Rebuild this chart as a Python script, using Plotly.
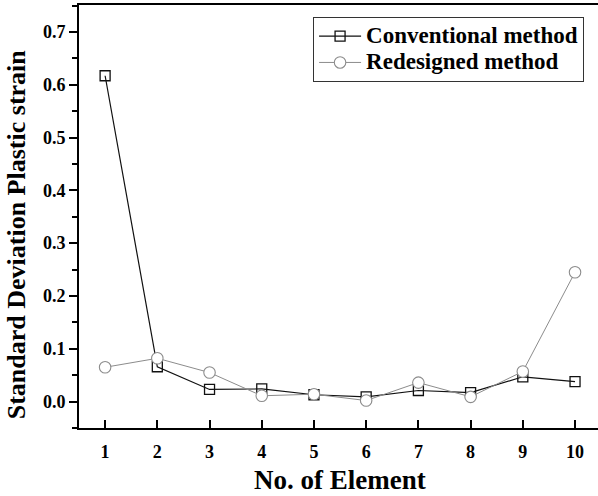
import plotly.graph_objects as go

elements = [1, 2, 3, 4, 5, 6, 7, 8, 9, 10]
conventional = [0.617, 0.066, 0.023, 0.024, 0.013, 0.009, 0.021, 0.017, 0.047, 0.038]
redesigned = [0.065, 0.082, 0.055, 0.011, 0.014, 0.002, 0.036, 0.009, 0.057, 0.245]
y_ticks = [0.0, 0.1, 0.2, 0.3, 0.4, 0.5, 0.6, 0.7]

FONT = "Liberation Serif"

def big(s):
    return f"<span style='font-size:23px'><b>{s}</b></span>"

fig = go.Figure()
fig.add_trace(go.Scatter(
    x=elements, y=conventional, mode="lines+markers", name=big("Conventional method"),
    line=dict(color="#111111", width=1.2),
    marker=dict(symbol="square-open", size=10, color="#111111", line=dict(width=1.3)),
))
fig.add_trace(go.Scatter(
    x=elements, y=redesigned, mode="lines+markers", name=big("Redesigned method"),
    line=dict(color="#8c8c8c", width=1),
    marker=dict(symbol="circle", size=11.5, color="white", line=dict(color="#8c8c8c", width=1.1)),
))

fig.update_layout(
    width=598, height=496,
    margin=dict(l=79, r=0, t=5, b=68),
    plot_bgcolor="white", paper_bgcolor="white",
    font=dict(family=FONT, color="black"),
    showlegend=True,
    legend=dict(
        x=0.451, y=0.972, xanchor="left", yanchor="top",
        bgcolor="white", bordercolor="#333333", borderwidth=1,
        font=dict(family=FONT, size=18, color="black"),
        tracegroupgap=0, itemwidth=42,
    ),
)
fig.update_xaxes(
    range=[0.5, 10.44], tickmode="array", tickvals=elements,
    ticktext=[f"<b>{v}</b>" for v in elements],
    ticks="inside", ticklen=8, tickwidth=2, tickcolor="black",
    showline=True, linewidth=2, linecolor="black", mirror=True,
    showgrid=False, zeroline=False, ticklabelstandoff=6,
    tickfont=dict(family=FONT, size=18, color="black"),
)
fig.update_yaxes(
    range=[-0.05, 0.751], tickmode="array", tickvals=y_ticks,
    ticktext=[f"<b>{v:.1f}</b>" for v in y_ticks],
    ticks="outside", ticklen=8, tickwidth=2, tickcolor="black",
    minor=dict(ticks="outside", ticklen=5, tickwidth=2, tickcolor="black", dtick=0.05, tick0=-0.05, showgrid=False),
    showline=True, linewidth=2, linecolor="black", mirror=False,
    showgrid=False, zeroline=False,
    tickfont=dict(family=FONT, size=18, color="black"),
)
fig.add_annotation(
    text="<b>No. of Element</b>", xref="paper", yref="paper",
    x=0.503, y=-0.123, xanchor="center", yanchor="middle", showarrow=False,
    font=dict(family=FONT, size=27, color="black"),
)
fig.add_annotation(
    text="<b>Standard Deviation Plastic strain</b>", xref="paper", yref="paper",
    x=-0.152, y=0.457, xanchor="left", yanchor="middle", textangle=-90, showarrow=False,
    font=dict(family=FONT, size=26, color="black"),
)
fig.write_html("out.html")
